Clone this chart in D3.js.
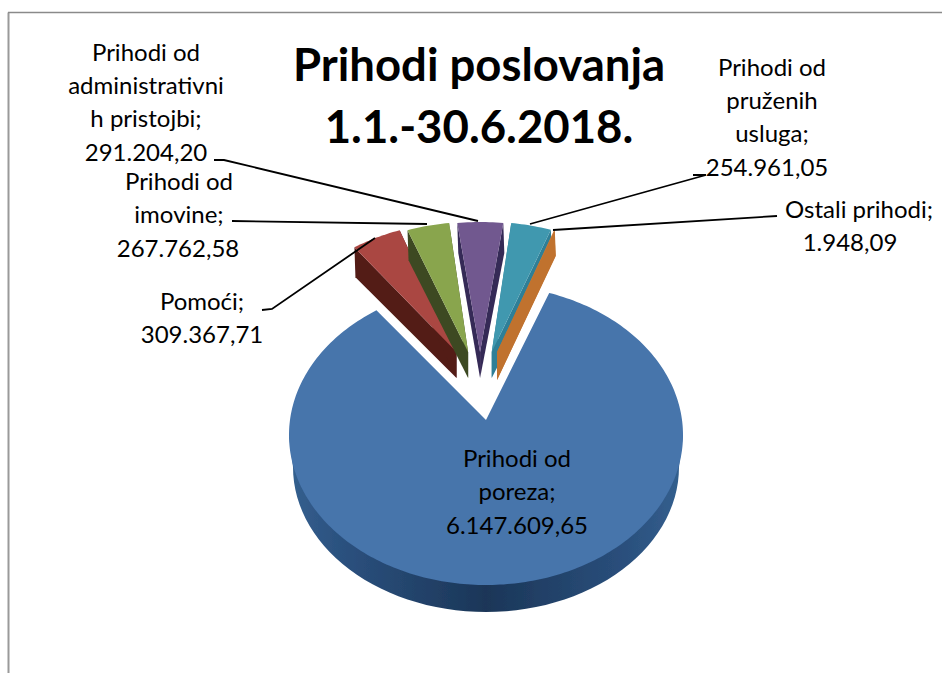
<!DOCTYPE html>
<html><head><meta charset="utf-8">
<script src="https://cdnjs.cloudflare.com/ajax/libs/d3/7.8.5/d3.min.js"></script>
<style>html,body{margin:0;background:#fff}svg{display:block}text{font-family:Lato,Carlito,sans-serif;fill:#000}</style>
</head><body><svg id="c" width="942" height="673"></svg>
<script>
const categories=["Prihodi od poreza","Pomoći","Prihodi od imovine","Prihodi od administrativnih pristojbi","Prihodi od pruženih usluga","Ostali prihodi"];
const values=[6147609.65,309367.71,267762.58,291204.20,254961.05,1948.09];
const labelLines=[["Prihodi od","poreza;","6.147.609,65"],["Pomoći;","309.367,71"],["Prihodi od","imovine;","267.762,58"],["Prihodi od","administrativni","h pristojbi;","291.204,20"],["Prihodi od","pruženih","usluga;","254.961,05"],["Ostali prihodi;","1.948,09"]];
const titleLines=["Prihodi poslovanja","1.1.-30.6.2018."];
const topColors=["#4674ab","#aa4643","#89a54e","#71588f","#4198af","#db843d"];
const wallColors=["#1f3f66","#521b18","#3c4a20","#362a57","#2f7f97","#c0722f"];

const svg=d3.select("#c");
const cx=486,cy=435,rx=197,ry=150,apexY=420;
const pie=d3.pie().sort(null).startAngle(20*Math.PI/180).endAngle(380*Math.PI/180);
const arcs=pie(values);
const warp=a=>a-0.035*Math.sin(2*a);
const px=a=>cx+rx*Math.sin(warp(a)), py=a=>cy-ry*Math.cos(warp(a));
function arcPts(a0,a1,dx,dy){const n=Math.max(2,Math.ceil((a1-a0)/0.02));return d3.range(n+1).map(i=>{const a=a0+(a1-a0)*i/n;return [px(a)+dx,py(a)+dy];});}
const line=d3.line();

// frame
svg.append("path").attr("d","M8.5,673V12.5").attr("fill","none").attr("stroke","#9a9a9a").attr("stroke-width",2);
svg.append("path").attr("d","M8,12.5H942").attr("fill","none").attr("stroke","#8a8a8a").attr("stroke-width",1.4);

const defs=svg.append("defs");
const rim=defs.append("linearGradient").attr("id","rim");
[[0,"#34608f"],[.12,"#2c5280"],[.5,"#1b3658"],[.85,"#2a4f7c"],[1,"#34608f"]].forEach(s=>rim.append("stop").attr("offset",s[0]).attr("stop-color",s[1]));
defs.append("filter").attr("id","soft").attr("x","-10%").attr("y","-10%").attr("width","120%").attr("height","120%").append("feGaussianBlur").attr("stdDeviation",0.5);

const g=svg.append("g").attr("filter","url(#soft)");

// main slice: rim under the top surface (the lower ellipse is narrower: perspective)
const main=arcs[0];
const lowRx=193,lowRy=145,lowCy=467;
const lower=d3.range(0,181,3).map(t=>{const a=t*Math.PI/180;return [cx+lowRx*Math.cos(a),lowCy+lowRy*Math.sin(a)];});
g.append("path").attr("d",line([[cx+rx,cy]].concat(lower,[[cx-rx,cy]]))+"Z").attr("fill","url(#rim)");
g.append("path").attr("d",line([[cx,apexY]].concat(arcPts(main.startAngle,main.endAngle,0,0)))+"Z").attr("fill",topColors[0]);

// exploded slices
arcs.slice(1).forEach((d,i)=>{
  const mid=(d.startAngle+d.endAngle)/2,s=Math.sin(mid);
  const dx=-6+34*s,dy=-63;
  const tip=[cx-6+50*s,apexY-68];
  const outer=arcPts(d.startAngle,d.endAngle,dx,dy);
  const a=outer[0],b=outer[outer.length-1];
  const D=i===4?26:30,T=i===4?28:26;
  const wall=(p)=>line([p,[p[0]+1,p[1]+D],[tip[0],tip[1]+T],tip])+"Z";
  const sg=g.append("g");
  sg.append("path").attr("d",wall(a)).attr("fill",wallColors[i+1]);
  sg.append("path").attr("d",wall(b)).attr("fill",wallColors[i+1]);
  sg.append("path").attr("d",line([tip].concat(outer))+"Z").attr("fill",topColors[i+1]);
});

// leader lines
const leaders=[[[262,310],[272,309],[375,238]],[[232,221],[427,224]],[[214,160],[224,160],[478,221]],[[693,175],[706,175],[530,224]].reverse(),[[777,216],[553,230]]];
leaders.forEach(l=>svg.append("path").attr("d",line(l)).attr("fill","none").attr("stroke","#000").attr("stroke-width",1.8));

// labels: per-label anchor, with the last line nudged as in the reference
const labelPos=[[517,467],[202,309.5],[179,190],[146,60.5],[772,75.5],[859,218]];
const lastLineDx=[0,0,-1,0,-5,-9];
const lh=33.4;
labelLines.forEach((ls,i)=>ls.forEach((t,j)=>svg.append("text").attr("x",labelPos[i][0]+(j===ls.length-1?lastLineDx[i]:0)).attr("y",labelPos[i][1]+j*lh).attr("text-anchor","middle").attr("font-size",24).text(t)));
titleLines.forEach((t,j)=>svg.append("text").attr("x",479).attr("y",81+j*62).attr("text-anchor","middle").attr("font-size",45.5).attr("font-weight",700).text(t));
</script></body></html>
